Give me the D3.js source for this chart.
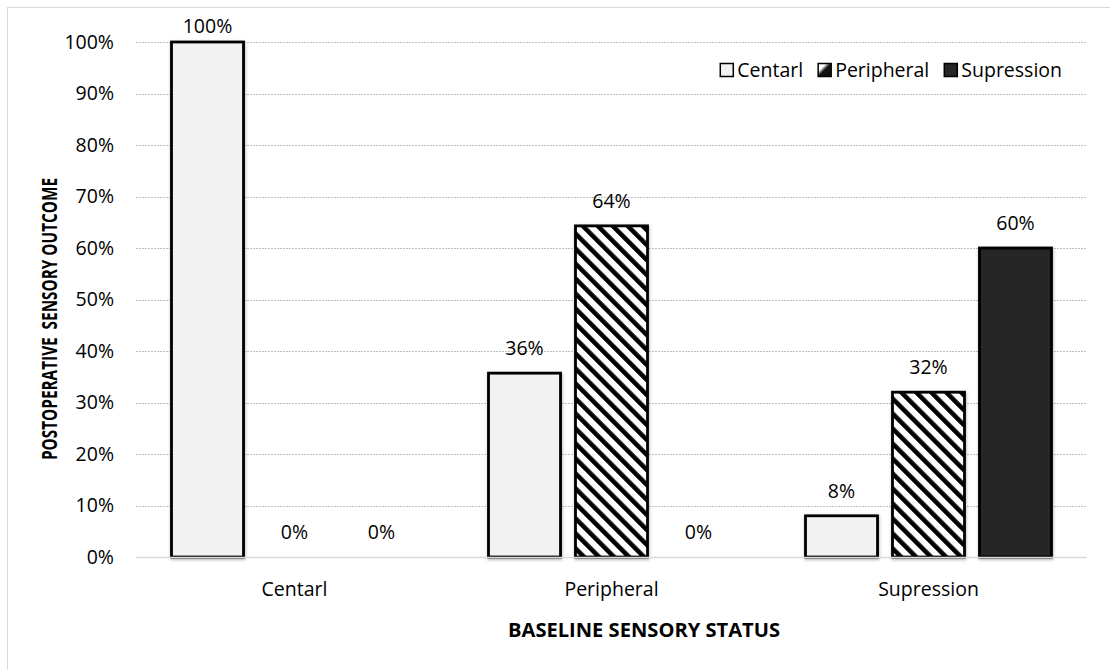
<!DOCTYPE html>
<html lang="en">
<head>
<meta charset="UTF-8">
<title>Postoperative sensory outcome</title>
<style>
  body { margin: 0; background: #fff; }
  text { font-family: "Open Sans", sans-serif; fill: #000; }
  .grid line { stroke: #bfbfbf; stroke-width: 1px; stroke-dasharray: 2 1; }
  .tick-label { font-size: 19.5px; }
  .axis-title { font-weight: bold; }
  .bar { stroke: #000; stroke-width: 2.8px; }
</style>
</head>
<body>
<svg id="chart" width="1110" height="670"></svg>
<script src="https://cdnjs.cloudflare.com/ajax/libs/d3/7.8.5/d3.min.js"></script>
<script>

var categories = ["Centarl", "Peripheral", "Supression"];
var series = ["Centarl", "Peripheral", "Supression"];
// one array per baseline group, values in percent per outcome series
var centarlValues = [100, 0, 0];
var peripheralValues = [35.7, 64.3, 0];
var supressionValues = [8, 32, 60];
var yTicks = [0, 10, 20, 30, 40, 50, 60, 70, 80, 90, 100];
var fills = ["#f2f2f2", "url(#hatch)", "#262626"];
var legendFills = ["#f2f2f2", "url(#legendHatch)", "#262626"];

var groupValues = [centarlValues, peripheralValues, supressionValues];

var width = 1110,
    height = 670,
    plot = { left: 136, right: 1087, top: 42, bottom: 557 };

var svg = d3.select("#chart");

var defs = svg.append("defs");

var hatch = defs.append("pattern")
  .attr("id", "hatch")
  .attr("patternUnits", "userSpaceOnUse")
  .attr("width", 10.6)
  .attr("height", 10.6)
  .attr("patternTransform", "rotate(-45)");
hatch.append("rect").attr("width", 10.6).attr("height", 10.6).attr("fill", "#fff");
hatch.append("rect").attr("width", 4.6).attr("height", 10.6).attr("fill", "#000");

var lg = defs.append("linearGradient")
  .attr("id", "legendHatch")
  .attr("x1", 0).attr("y1", 0).attr("x2", 1).attr("y2", 1);
lg.append("stop").attr("offset", "0.3").attr("stop-color", "#fff");
lg.append("stop").attr("offset", "0.5").attr("stop-color", "#111");

var shadow = defs.append("filter")
  .attr("id", "shadow")
  .attr("x", "-10%").attr("y", "-10%")
  .attr("width", "130%").attr("height", "130%");
shadow.append("feDropShadow")
  .attr("dx", 0.5).attr("dy", 1.5)
  .attr("stdDeviation", 1.5)
  .attr("flood-color", "#000")
  .attr("flood-opacity", 0.3);

// chart frame (only top and left edges fall inside the picture)
svg.append("rect")
  .attr("x", 7.5).attr("y", 7.5)
  .attr("width", width).attr("height", height)
  .attr("fill", "none")
  .attr("stroke", "#d9d9d9");

var x0 = d3.scaleBand()
  .domain(categories)
  .range([plot.left, plot.right])
  .paddingInner(0.224)
  .paddingOuter(0.112);

var x1 = d3.scaleBand()
  .domain(series)
  .range([0, x0.bandwidth()])
  .paddingInner(0.172);

var y = d3.scaleLinear()
  .domain([0, 100])
  .range([plot.bottom, plot.top]);

// gridlines
svg.append("g")
  .attr("class", "grid")
  .selectAll("line")
  .data(yTicks.filter(function(d) { return d > 0; }))
  .enter()
  .append("line")
    .attr("x1", plot.left)
    .attr("x2", plot.right)
    .attr("y1", function(d) { return Math.round(y(d)) + 0.5; })
    .attr("y2", function(d) { return Math.round(y(d)) + 0.5; });

// y axis labels
var yAxis = d3.axisLeft(y)
  .tickValues(yTicks)
  .tickSize(0)
  .tickPadding(22)
  .tickFormat(function(d) { return d + "%"; });

var yg = svg.append("g")
  .attr("transform", "translate(" + plot.left + ",0)")
  .call(yAxis);
yg.select(".domain").remove();
yg.selectAll("text")
  .attr("class", "tick-label")
  .attr("font-family", null)
  .attr("font-size", null);

// bars
var groups = svg.selectAll(".group")
  .data(categories)
  .enter()
  .append("g")
    .attr("class", "group")
    .attr("transform", function(d) { return "translate(" + x0(d) + ",0)"; });

groups.selectAll("rect")
  .data(function(d, i) {
    return groupValues[i].map(function(v, j) { return { series: series[j], value: v, idx: j }; });
  })
  .enter()
  .filter(function(d) { return d.value > 0; })
  .append("rect")
    .attr("class", "bar")
    .attr("filter", "url(#shadow)")
    .attr("x", function(d) { return x1(d.series); })
    .attr("width", x1.bandwidth())
    .attr("y", function(d) { return y(d.value); })
    .attr("height", function(d) { return y(0) - y(d.value); })
    .attr("fill", function(d) { return fills[d.idx]; });

groups.selectAll(".value")
  .data(function(d, i) {
    return groupValues[i].map(function(v, j) { return { series: series[j], value: v }; });
  })
  .enter()
  .append("text")
    .attr("class", "tick-label value")
    .attr("text-anchor", "middle")
    .attr("x", function(d) { return x1(d.series) + x1.bandwidth() / 2; })
    .attr("y", function(d) { return Math.max(y(d.value) - 18, plot.top - 9); })
    .text(function(d) { return Math.round(d.value) + "%"; });

// x axis line
svg.append("line")
  .attr("x1", plot.left).attr("x2", plot.right)
  .attr("y1", plot.bottom + 0.5).attr("y2", plot.bottom + 0.5)
  .attr("stroke", "#d9d9d9")
  .attr("stroke-width", 1.5);

// category labels
svg.selectAll(".cat")
  .data(categories)
  .enter()
  .append("text")
    .attr("class", "tick-label cat")
    .attr("text-anchor", "middle")
    .attr("x", function(d) { return x0(d) + x0.bandwidth() / 2; })
    .attr("y", 596)
    .text(function(d) { return d; });

// axis titles
svg.append("text")
  .attr("class", "axis-title")
  .attr("font-size", 20)
  .attr("text-anchor", "middle")
  .attr("x", 644)
  .attr("y", 637)
  .attr("textLength", 272)
  .attr("lengthAdjust", "spacingAndGlyphs")
  .text("BASELINE SENSORY STATUS");

svg.append("text")
  .attr("class", "axis-title")
  .attr("font-size", 20.5)
  .attr("text-anchor", "middle")
  .attr("transform", "translate(57,319) rotate(-90)")
  .attr("xml:space", "preserve")
  .attr("textLength", 282)
  .attr("lengthAdjust", "spacingAndGlyphs")
  .text("POSTOPERATIVE  SENSORY OUTCOME");

// legend, laid out right to left so it ends at a fixed edge
var legend = svg.append("g").attr("class", "legend");
var legendRight = 1062,
    legendY = 70,
    box = 13;

var items = legend.selectAll("g")
  .data(series)
  .enter()
  .append("g");

items.append("rect")
  .attr("width", box)
  .attr("height", box)
  .attr("y", legendY - box / 2)
  .attr("fill", function(d, i) { return legendFills[i]; })
  .attr("stroke", "#000")
  .attr("stroke-width", 1.5);

items.append("text")
  .attr("class", "tick-label")
  .attr("x", box + 4)
  .attr("y", legendY + 7)
  .text(function(d) { return d; });

var widths = [];
items.each(function() {
  widths.push(box + 4 + d3.select(this).select("text").node().getComputedTextLength());
});
var cursor = legendRight;
var offsets = [];
for (var i = series.length - 1; i >= 0; i--) {
  cursor -= widths[i];
  offsets[i] = cursor;
  cursor -= 15;
}
items.attr("transform", function(d, i) { return "translate(" + offsets[i] + ",0)"; });

</script>
</body>
</html>
